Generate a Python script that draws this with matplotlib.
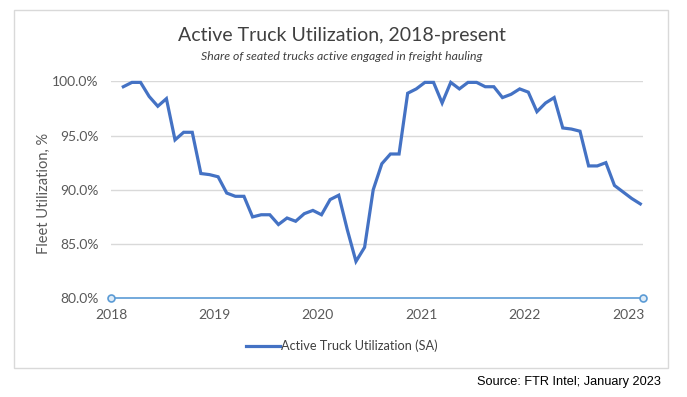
import matplotlib
matplotlib.use("Agg")
import matplotlib.pyplot as plt
from matplotlib.patches import Rectangle
from matplotlib.ticker import FuncFormatter

# Monthly active truck utilization (SA), Jan 2018 - Jan 2023
start_year = 2018
utilization = [
    99.5, 99.9, 99.9, 98.6, 97.7, 98.4, 94.6, 95.3, 95.3, 91.5,
    91.4, 91.2, 89.7, 89.4, 89.4, 87.5, 87.7, 87.7, 86.8, 87.4,
    87.1, 87.8, 88.1, 87.7, 89.1, 89.5, 86.3, 83.4, 84.7, 90.0,
    92.4, 93.3, 93.3, 98.9, 99.3, 99.9, 99.9, 98.0, 99.9, 99.3,
    99.9, 99.9, 99.5, 99.5, 98.5, 98.8, 99.3, 99.0, 97.2, 98.0,
    98.5, 95.7, 95.6, 95.4, 92.2, 92.2, 92.5, 90.4, 89.8, 89.2, 88.7,
]
year_ticks = [2018, 2019, 2020, 2021, 2022, 2023]
pct_ticks = [80, 85, 90, 95, 100]

title = "Active Truck Utilization, 2018-present"
subtitle = "Share of seated trucks active engaged in freight hauling"
series_name = "Active Truck Utilization (SA)"
source = "Source: FTR Intel; January 2023"

W, H = 687, 397
fig = plt.figure(figsize=(W / 100, H / 100), dpi=100)
fig.patch.set_facecolor("white")

# chart frame
fig.patches.append(Rectangle((14 / W, 1 - 368 / H), 654 / W, 358 / H,
                             transform=fig.transFigure, fill=False,
                             edgecolor="#D9D9D9", linewidth=1.0))

ax = fig.add_axes([111 / W, 1 - 298.3 / H, 532 / W, 217 / H])
ax.set_xlim(2018, 2018 + 532 / 103.4)
ax.set_ylim(80, 100)

# months plotted slightly after the start of each month, like the Excel date axis
x = [start_year + (i + 1.43) / 12 for i in range(len(utilization))]
ax.plot(x, utilization, color="#4472C4", linewidth=2.3, clip_on=False,
        solid_joinstyle="miter", label=series_name, zorder=3)

for v in pct_ticks[1:]:
    ax.axhline(v, color="#D9D9D9", linewidth=1.0, zorder=1)

# horizontal axis line with end circles
x0, x1 = ax.get_xlim()
ax.plot([x0, x1], [80, 80], color="#5B9BD5", linewidth=1.2, marker="o",
        markersize=5, markerfacecolor="#DEEBF7", markeredgecolor="#5B9BD5",
        markeredgewidth=1.2, clip_on=False, zorder=2)

for s in ax.spines.values():
    s.set_visible(False)

font = ["Lato", "DejaVu Sans"]
ax.set_xticks(year_ticks)
ax.set_xticklabels([str(y) for y in year_ticks], fontfamily=font,
                   fontsize=10, color="#595959")
ax.set_yticks(pct_ticks)
ax.yaxis.set_major_formatter(FuncFormatter(lambda v, p: f"{v:.1f}%"))
for lab in ax.get_yticklabels():
    lab.set_fontfamily(font)
ax.tick_params(axis="y", length=0, pad=9, labelsize=10, labelcolor="#595959")
ax.tick_params(axis="x", length=0, pad=8, labelsize=10, labelcolor="#595959")

fig.text(44 / W, 1 - 193 / H, "Fleet Utilization, %", rotation=90,
         ha="center", va="center", fontsize=10.5, color="#595959",
         fontfamily=font)

fig.text(342 / W, 1 - 35 / H, title, ha="center", va="center",
         fontsize=14, color="#404040", fontfamily=font)
fig.text(342 / W, 1 - 56 / H, subtitle, ha="center", va="center",
         fontsize=8.8, style="italic", color="#404040", fontfamily=font)

ax.legend(loc="center", bbox_to_anchor=(342 / W, 1 - 346 / H),
          bbox_transform=fig.transFigure, frameon=False,
          handlelength=2.6, handletextpad=0.1,
          prop={"family": font, "size": 9.2}, labelcolor="#404040")

fig.text(661 / W, 1 - 382 / H, source, ha="right", va="center",
         fontsize=9.2, color="black", fontfamily="Liberation Sans")

fig.savefig("out.png", dpi=100, facecolor="white")
